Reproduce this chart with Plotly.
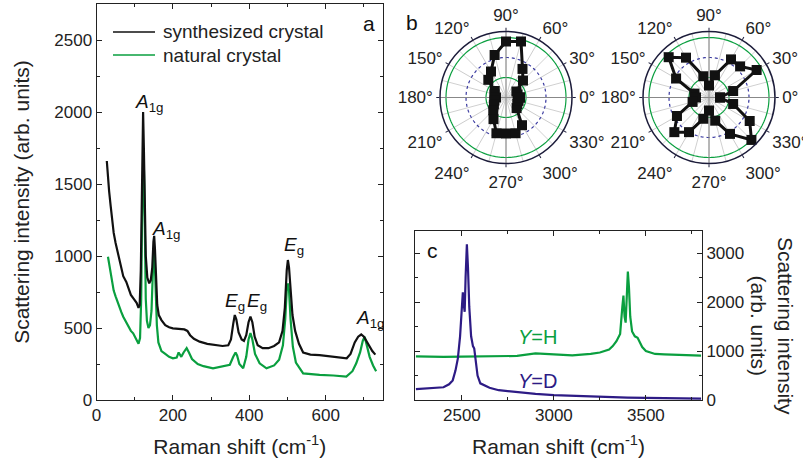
import numpy as np
import plotly.graph_objects as go

# ---------------- Panel a: Raman spectra ----------------
syn_x = [27, 30, 33, 37, 40, 45, 50, 55, 60, 65, 70, 78, 85, 90, 98, 105, 110, 113, 116, 118, 120, 122, 124, 126,
         129, 133, 138, 142, 146, 149, 151, 153, 156, 159, 163, 170, 180, 190, 200, 215, 230, 238, 245, 255, 270,
         290, 310, 330, 345, 352, 358, 362, 366, 372, 380, 386, 392, 398, 403, 408, 414, 422, 435, 450, 465, 478,
         487, 493, 498, 501, 504, 508, 513, 520, 530, 541, 560, 584, 610, 640, 655, 665, 676, 685, 693, 700, 708,
         715, 722, 730]
syn_y = [1660, 1540, 1450, 1350, 1270, 1160, 1090, 1030, 960, 900, 860, 820, 760, 730, 700, 675, 640, 660, 900, 1400,
         1850, 2000, 1750, 1300, 1000, 850, 810, 830, 920, 1100, 1140, 1050, 800, 660, 590, 555, 520, 505, 498, 495,
         490, 480, 450, 425, 405, 390, 380, 375, 380, 420, 530, 590, 560, 470, 420, 410, 450, 540, 580, 540, 440, 380,
         360, 360, 375, 400, 480, 640, 900, 972, 920, 760, 590, 480, 390, 330, 315, 312, 305, 295, 290, 320, 400, 440,
         455, 440, 400, 370, 340, 315]

nat_x = [30, 35, 40, 45, 50, 55, 60, 65, 70, 78, 85, 90, 96, 102, 106, 110, 114, 117, 119, 121, 123, 125, 127, 129,
         132, 136, 140, 144, 147, 150, 152, 155, 158, 162, 170, 180, 190, 200, 210, 215, 222, 228, 236, 242, 250, 265,
         280, 305, 330, 349, 358, 364, 368, 374, 384, 392, 398, 403, 408, 415, 427, 445, 465, 478, 488, 494, 498, 501,
         504, 508, 514, 522, 541, 560, 584, 620, 654, 670, 680, 690, 697, 702, 707, 715, 724, 732]
nat_y = [995, 920, 830, 760, 720, 680, 640, 610, 578, 540, 500, 480, 463, 430, 410, 390, 430, 700, 1200, 1600, 1750,
         1500, 1000, 700, 550, 500, 520, 620, 850, 1040, 1000, 750, 520, 400, 340, 320, 300, 290, 295, 330, 300, 330,
         360, 330, 285, 250, 235, 220, 235, 245, 300, 330, 310, 250, 220, 300, 420, 465, 420, 320, 255, 220, 240, 280,
         380, 560, 760, 810, 760, 560, 370, 260, 185, 180, 174, 170, 162, 200, 255, 330, 410, 440, 380, 300, 240, 200]

series_names = ["synthesized crystal", "natural crystal"]

# peak labels (text, x, y)
peak_text = ["<i>A</i><sub>1g</sub>", "<i>A</i><sub>1g</sub>", "<i>E</i><sub>g</sub>", "<i>E</i><sub>g</sub>",
             "<i>E</i><sub>g</sub>", "<i>A</i><sub>1g</sub>"]
peak_x = [95, 140, 331, 390, 486, 673]
peak_y = [2060, 1180, 680, 680, 1070, 560]

# ---------------- Panel b: polar patterns ----------------
pol_theta = list(range(0, 360, 15))
pol1_r = [14, 12, 12, 24, 33, 58, 56, 44, 30, 25, 13, 12, 10, 12, 14, 18, 25, 37, 36, 37, 32, 15, 13, 13]
pol2_r = [11, 25, 55, 44, 44, 23, 12, 22, 46, 57, 38, 15, 13, 17, 37, 49, 40, 22, 13, 24, 42, 60, 47, 25]
ring_r = [20, 40, 60]
ang_labels = list(range(0, 360, 30))

# ---------------- Panel c: high-frequency spectra ----------------
h_x = [2250, 2300, 2400, 2500, 2600, 2700, 2800, 2900, 3000, 3100, 3200, 3250, 3300, 3320, 3340, 3360, 3372, 3378,
       3384, 3390, 3396, 3402, 3408, 3415, 3425, 3440, 3455, 3465, 3480, 3500, 3550, 3600, 3700, 3800]
h_y = [890, 885, 880, 885, 890, 880, 900, 950, 930, 910, 940, 970, 1030, 1100, 1200, 1350, 1900, 2130, 1700, 1580,
       2100, 2620, 2300, 1700, 1400, 1300, 1270, 1200, 1080, 1000, 940, 930, 915, 905]
d_x = [2250, 2300, 2350, 2400, 2430, 2450, 2465, 2478, 2490, 2500, 2505, 2510, 2515, 2520, 2527, 2533, 2540, 2550,
       2560, 2567, 2575, 2585, 2600, 2650, 2700, 2800, 2900, 3000, 3200, 3400, 3600, 3800]
d_y = [220, 235, 245, 260, 320, 400, 600, 850, 1300, 1900, 2200, 1950, 1800, 2500, 3180, 2700, 1900, 1300, 1100,
       1050, 800, 500, 340, 250, 200, 160, 125, 100, 70, 50, 40, 30]

GREEN = "#0a9f3f"
BLACK = "#111111"
NAVY = "#2d1b85"
FONT = "Liberation Sans, Arial, sans-serif"
W, H = 803, 467


def px_x(a, b):
    return [a / W, b / W]


def px_y(top, bottom):
    return [(H - bottom) / H, (H - top) / H]


def pxx(a):
    return a / W


def pxy(a):
    return 1 - a / H


fig = go.Figure()
fig.add_trace(go.Scatter(x=nat_x, y=nat_y, mode="lines", name=series_names[1],
                         line=dict(color=GREEN, width=2.2), xaxis="x", yaxis="y", showlegend=False))
fig.add_trace(go.Scatter(x=syn_x, y=syn_y, mode="lines", name=series_names[0],
                         line=dict(color=BLACK, width=2.2), xaxis="x", yaxis="y", showlegend=False))

fig.add_trace(go.Scatter(x=h_x, y=h_y, mode="lines", name="Y=H", line=dict(color=GREEN, width=2.2),
                         xaxis="x2", yaxis="y2", showlegend=False))
fig.add_trace(go.Scatter(x=d_x, y=d_y, mode="lines", name="Y=D", line=dict(color=NAVY, width=2.2),
                         xaxis="x2", yaxis="y2", showlegend=False))

ring_theta = np.arange(0, 362, 2)
for sp, rvals in (("polar", pol1_r), ("polar2", pol2_r)):
    for th in range(15, 180, 30):
        fig.add_trace(go.Scatterpolar(r=[66, 66], theta=[th, th + 180], mode="lines",
                                      line=dict(color="#d0d0d0", width=1), subplot=sp,
                                      showlegend=False, hoverinfo="skip"))
    for rr, col, dash in zip(ring_r, [GREEN, "#3b3ba0", GREEN], ["solid", "dot", "solid"]):
        fig.add_trace(go.Scatterpolar(r=[rr] * len(ring_theta), theta=ring_theta, mode="lines",
                                      line=dict(color=col, width=1.2, dash=dash), subplot=sp,
                                      showlegend=False, hoverinfo="skip"))
    for th in (0, 90):
        fig.add_trace(go.Scatterpolar(r=[66, 66], theta=[th, th + 180], mode="lines",
                                      line=dict(color="#888888", width=1), subplot=sp,
                                      showlegend=False, hoverinfo="skip"))
    fig.add_trace(go.Scatterpolar(r=rvals + [rvals[0]], theta=pol_theta + [pol_theta[0]], mode="lines+markers",
                                  line=dict(color=BLACK, width=3),
                                  marker=dict(symbol="square", size=10, color=BLACK),
                                  subplot=sp, showlegend=False))

axis_common = dict(showline=True, linecolor="#222", linewidth=1, mirror="ticks", ticks="inside",
                   ticklen=5, tickcolor="#222", showgrid=False, zeroline=False, automargin=False,
                   tickfont=dict(family=FONT, size=17, color="#222"))

polar_common = dict(
    bgcolor="white",
    radialaxis=dict(visible=False, range=[0, 66], showgrid=False),
    angularaxis=dict(tickmode="array", tickvals=ang_labels, ticktext=[f"{t}°" for t in ang_labels], rotation=0,
                     direction="counterclockwise", gridcolor="#cccccc", gridwidth=1,
                     linecolor="#1c1c3a", linewidth=1.5, ticks="outside", ticklen=3,
                     tickcolor="#1c1c3a", tickfont=dict(family=FONT, size=17, color="#222")),
)

annotations = []
for t, x, y in zip(peak_text, peak_x, peak_y):
    annotations.append(dict(text=t, x=x, y=y, xref="x", yref="y", showarrow=False, xanchor="left",
                            yanchor="middle", font=dict(family=FONT, size=19, color="#111")))


def paper_text(text, x, y, size, color="#111", angle=0):
    return dict(text=text, x=pxx(x), y=pxy(y), xref="paper", yref="paper", showarrow=False,
                xanchor="center", yanchor="middle", textangle=angle,
                font=dict(family=FONT, size=size, color=color))


# manual legend (text part)
leg_rows_y = [32, 55]
for name, yy in zip(series_names, leg_rows_y):
    annotations.append(dict(text=name, x=pxx(161), y=pxy(yy), xref="paper", yref="paper", showarrow=False,
                            xanchor="left", yanchor="middle", font=dict(family=FONT, size=19, color="#222")))

annotations += [
    paper_text("a", 369, 24, 21),
    paper_text("b", 412, 22, 21),
    paper_text("c", 432, 251, 21),
    paper_text("<i>Y</i>=H", 537, 337, 20, GREEN),
    paper_text("<i>Y</i>=D", 537, 381, 20, NAVY),
    paper_text("Scattering intensity<br>(arb. units)", 772, 326, 21, "#222", 90),
]

shapes = []
for col, yy in zip([BLACK, GREEN], leg_rows_y):
    shapes.append(dict(type="line", xref="paper", yref="paper", x0=pxx(113), x1=pxx(155),
                       y0=pxy(yy), y1=pxy(yy), line=dict(color=col, width=1.5)))

fig.update_layout(
    width=W, height=H, margin=dict(l=0, r=0, t=0, b=0),
    paper_bgcolor="white", plot_bgcolor="white",
    font=dict(family=FONT, color="#222"),
    xaxis=dict(domain=px_x(96.5, 383), range=[0, 750], tickvals=[0, 200, 400, 600],
               minor=dict(dtick=100, ticks="inside", ticklen=3, tickcolor="#222"),
               title=dict(text="Raman shift (cm<sup>-1</sup>)", font=dict(family=FONT, size=21), standoff=14),
               anchor="y", **axis_common),
    yaxis=dict(domain=px_y(4, 400), range=[0, 2750], tickvals=[0, 500, 1000, 1500, 2000, 2500],
               minor=dict(dtick=250, ticks="inside", ticklen=3, tickcolor="#222"),
               title=dict(text="Scattering intensity (arb. units)", font=dict(family=FONT, size=21), standoff=18),
               anchor="x", **axis_common),
    xaxis2=dict(domain=px_x(415, 702), range=[2245, 3805], tickvals=[2500, 3000, 3500],
                minor=dict(dtick=250, tick0=2250, ticks="inside", ticklen=3, tickcolor="#222"),
                title=dict(text="Raman shift (cm<sup>-1</sup>)", font=dict(family=FONT, size=21), standoff=14),
                anchor="y2", **axis_common),
    yaxis2=dict(domain=px_y(231, 400), range=[0, 3450], tickvals=[0, 1000, 2000, 3000], side="right",
                minor=dict(dtick=500, ticks="inside", ticklen=3, tickcolor="#222"),
                anchor="x2", **axis_common),
    polar=dict(domain=dict(x=px_x(440, 572), y=px_y(31.5, 163.5)), **polar_common),
    polar2=dict(domain=dict(x=px_x(643, 775), y=px_y(31.5, 163.5)), **polar_common),
    annotations=annotations,
    shapes=shapes,
    showlegend=False,
)

fig.write_html("out.html", config={"displayModeBar": False},
               post_script="document.body.style.margin='0';")
